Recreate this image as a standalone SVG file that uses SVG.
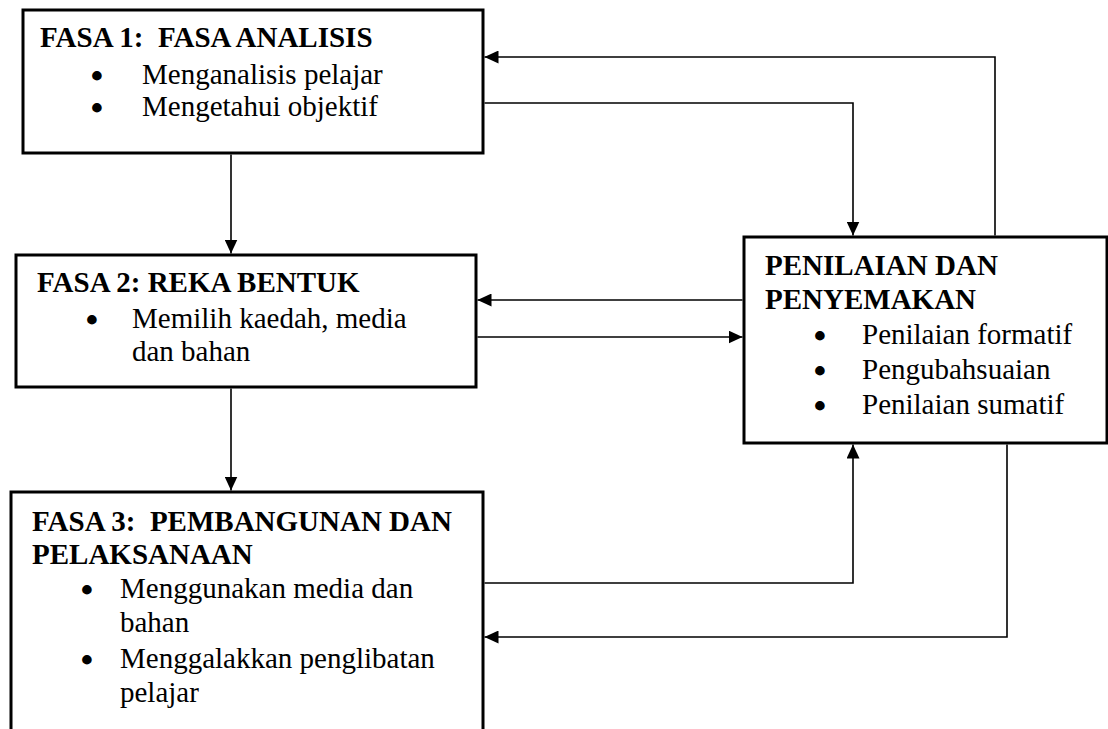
<svg xmlns="http://www.w3.org/2000/svg" width="1108" height="729" viewBox="0 0 1108 729">
<defs>
<marker id="arr" markerUnits="userSpaceOnUse" markerWidth="14" markerHeight="13" refX="14" refY="6.5" orient="auto">
<path d="M0,0 L14,6.5 L0,13 z" fill="#000"/>
</marker>
<style>
.box{fill:#fff;stroke:#000;stroke-width:3}
.h{font-size:29px;font-weight:bold}
.t{font-size:29px}
.pre{white-space:pre}
.b{font-size:28px;text-anchor:middle;font-weight:bold;stroke:#000;stroke-width:2}
.c{fill:none;stroke:#000;stroke-width:1.6;marker-end:url(#arr)}
</style>
</defs>
<rect width="1108" height="729" fill="#fff"/>
<g id="connectors">
<path class="c" d="M231,154.5 V253.5"/>
<path class="c" d="M231,388.5 V490.5"/>
<path class="c" d="M484.5,103 H853 V235.5"/>
<path class="c" d="M995,235.5 V57 H484.5"/>
<path class="c" d="M742.5,300 H477.5"/>
<path class="c" d="M477.5,337 H742.5"/>
<path class="c" d="M484.5,583 H853 V444.5"/>
<path class="c" d="M1007,444.5 V637 H484.5"/>
</g>
<g font-family="Liberation Serif, Times New Roman, serif" fill="#000">
<g id="fasa1">
<rect class="box" x="23" y="10" width="460" height="143"/>
<text class="h pre" x="40" y="47">FASA 1:  FASA ANALISIS</text>
<text class="b" x="97" y="85">•</text>
<text class="t" x="142" y="84">Menganalisis pelajar</text>
<text class="b" x="97" y="117">•</text>
<text class="t" x="142" y="116">Mengetahui objektif</text>
</g>
<g id="fasa2">
<rect class="box" x="16" y="255" width="460" height="132"/>
<text class="h" x="37" y="292">FASA 2: REKA BENTUK</text>
<text class="b" x="92" y="329">•</text>
<text class="t" x="132" y="328">Memilih kaedah, media</text>
<text class="t" x="132" y="361">dan bahan</text>
</g>
<g id="fasa3">
<rect class="box" x="11" y="492" width="472" height="260"/>
<text class="h pre" x="32" y="531">FASA 3:  PEMBANGUNAN DAN</text>
<text class="h" x="32" y="564">PELAKSANAAN</text>
<text class="b" x="87" y="599">•</text>
<text class="t" x="120" y="598">Menggunakan media dan</text>
<text class="t" x="120" y="632">bahan</text>
<text class="b" x="87" y="669">•</text>
<text class="t" x="120" y="668">Menggalakkan penglibatan</text>
<text class="t" x="120" y="702">pelajar</text>
</g>
<g id="penilaian">
<rect class="box" x="744" y="237" width="363" height="206"/>
<text class="h" x="765" y="275">PENILAIAN DAN</text>
<text class="h" x="765" y="309">PENYEMAKAN</text>
<text class="b" x="820" y="345">•</text>
<text class="t" x="862" y="344">Penilaian formatif</text>
<text class="b" x="820" y="380">•</text>
<text class="t" x="862" y="379">Pengubahsuaian</text>
<text class="b" x="820" y="415">•</text>
<text class="t" x="862" y="414">Penilaian sumatif</text>
</g>
</g>
</svg>
